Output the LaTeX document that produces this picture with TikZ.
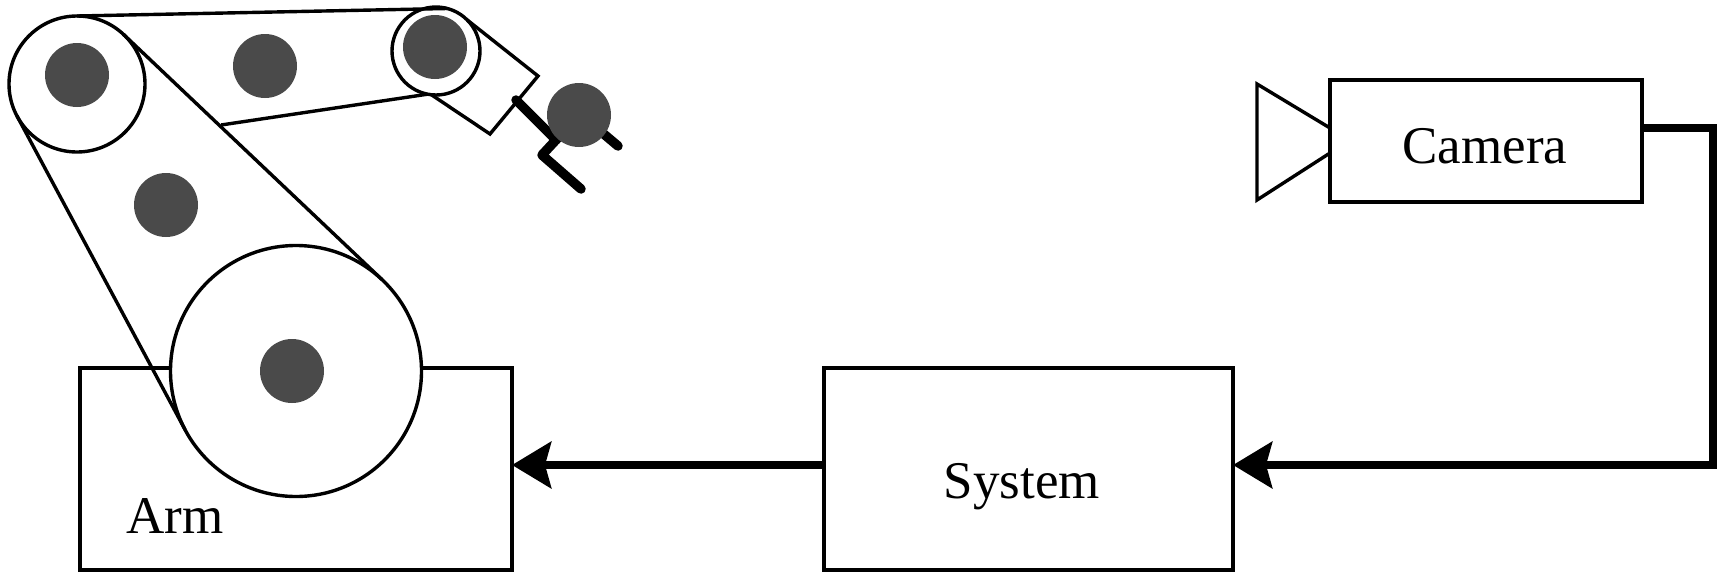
\documentclass[tikz,border=0pt]{standalone}
\usepackage{fontspec}
\setmainfont{Liberation Serif}
\usetikzlibrary{positioning}
\usetikzlibrary{arrows.meta}

\begin{document}
\begin{tikzpicture}[x=1pt,y=-1pt,line width=3.4pt,
	box node/.style={rectangle,draw,outer sep=0pt},
	joint node/.style={circle,draw,fill=white,inner sep=0pt,outer sep=0pt},
	hole node/.style={circle,fill=hole,inner sep=0pt,minimum size=64pt},
	name node/.style={inner sep=0pt,font=\fontsize{53}{60}\selectfont},
	wire/.style={line width=8.5pt,line join=miter},
	finger/.style={line width=9.5pt,line cap=round,line join=round},
	tip/.style={-{Stealth[length=39pt,width=46pt,inset=6pt]}}]
	
	\definecolor{hole}{RGB}{74,74,74}
	
	\useasboundingbox (0,0) rectangle (1718,573);
	
	\node[box node, minimum width=432pt, minimum height=202pt] (arm) at (296,469) {};
	\node[box node, minimum width=409pt, minimum height=202pt] (system) [right=312pt of arm] {};
	\node[box node, minimum width=312pt, minimum height=122pt] (camera) at (1486,141) {};
	
	\node[name node, anchor=base] (arm name) at (175,533) {Arm};
	\node[name node, anchor=base] (system name) at (1022,498) {System};
	\node[name node, anchor=base] (camera name) at (1485,163) {Camera};
	
	\node[joint node, minimum size=251pt] (waist) at (296,371) {};
	\node[joint node, minimum size=136pt] (shoulder) at (77,84) {};
	\node[joint node, minimum size=88pt] (elbow) at (436,51) {};
	
	\coordinate (link end) at (221,125);
	\coordinate (hand a) at (538,76);
	\coordinate (hand b) at (490,134);
	\coordinate (wrist) at (516,100);
	\coordinate (palm) at (556,140);
	\coordinate (palm low) at (542,155);
	\coordinate (palm high) at (580,114);
	\coordinate (finger low) at (581,189);
	\coordinate (finger high) at (618,146);
	
	\draw (shoulder.47) -- (waist.47);
	\draw (shoulder.208) -- (waist.208);
	\draw (shoulder.90) -- (elbow.75);
	\draw (link end) -- (elbow.-101);
	\draw[line join=miter] (elbow.45) -- (hand a) -- (hand b) -- (elbow.-96);
	
	\draw[finger] (wrist) -- (palm);
	\draw[finger] (finger low) -- (palm low) -- (palm high) -- (finger high);
	
	\node[hole node] (waist hole) at (292,371) {};
	\node[hole node] (shoulder hole) at (77,75) {};
	\node[hole node] (elbow hole) at (435,47) {};
	\node[hole node] (upper hole) at (265,66) {};
	\node[hole node] (lower hole) at (166,205) {};
	\node[hole node] (hand hole) at (579,115) {};
	
	\draw (camera.west |- 0,128) -- (1257,84) -- (1257,200) -- (camera.west |- 0,153);
	
	\coordinate (corner top) at (1713,128);
	\coordinate (corner bottom) at (1713,465);
	
	\draw[wire,tip] (camera.east |- corner top) -- (corner top) -- (corner bottom) -- (system.east |- corner bottom);
	\draw[wire,tip] (system.west |- corner bottom) -- (arm.east |- corner bottom);
\end{tikzpicture}
\end{document}
